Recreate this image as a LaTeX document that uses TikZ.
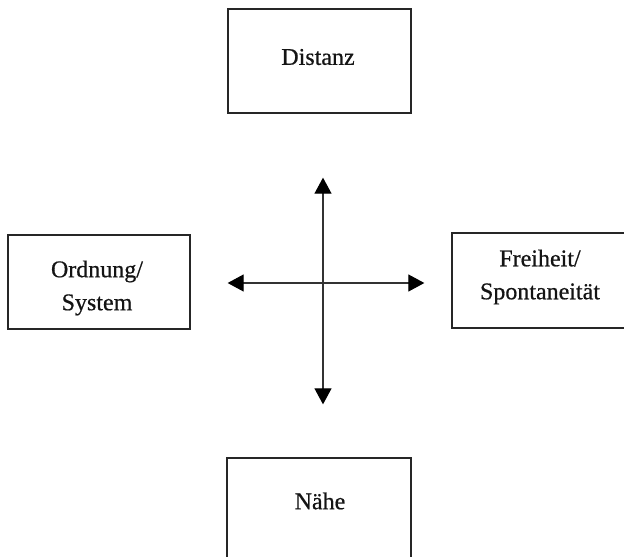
\documentclass[tikz,border=0pt]{standalone}
\usepackage{fontspec}
\setmainfont{Liberation Serif}
\newfontfamily\lblfont{Liberation Serif}[FakeBold=0.6]
\usetikzlibrary{arrows.meta}
\definecolor{ink}{HTML}{141414}
\definecolor{frame}{HTML}{262626}
\definecolor{axis}{HTML}{333333}
\tikzset{
  box/.style={draw=frame, line width=1.3pt, rectangle, inner sep=0pt, fill=none},
  lbl/.style={text=ink, font=\lblfont\fontsize{24}{33}\selectfont, align=center, inner sep=0pt},
  tipstyle/.style={Triangle[length=16pt,width=17pt,color=black]},
  dbl/.style={draw=axis, line width=1.1pt, {Triangle[length=16pt,width=17pt,color=black]}-{Triangle[length=16pt,width=17pt,color=black]}}
}
\begin{document}
\begin{tikzpicture}[x=1pt,y=-1pt]
\useasboundingbox[fill=white] (0,0) rectangle (624,557);
\clip (0,0) rectangle (624,557);
% boxes
\node[box, minimum width=183pt, minimum height=104pt] (dist) at (319.5,61) {};
\node[box, minimum width=182pt, minimum height=94pt] (ord) at (99,282) {};
\node[box, minimum width=176pt, minimum height=95pt] (frei) at (540,280.5) {};
\node[box, minimum width=184pt, minimum height=112pt] (nahe) at (319,514) {};
% labels
\node[lbl] (distT) at (318,57) {Distanz};
\node[lbl] (ordT) at (97,288) {Ordnung/\\System};
\node[lbl] (freiT) at (540,277) {Freiheit/\\Spontaneität};
\node[lbl] (naheT) at (320,501) {Nähe};
% axes
\coordinate (c) at (323,283);
\draw[dbl, shorten <=64pt, shorten >=53pt] (dist.south -| c) -- (nahe.north -| c);
\draw[dbl, shorten <=37pt, shorten >=27pt] (ord.east |- c) -- (frei.west |- c);
\end{tikzpicture}
\end{document}
